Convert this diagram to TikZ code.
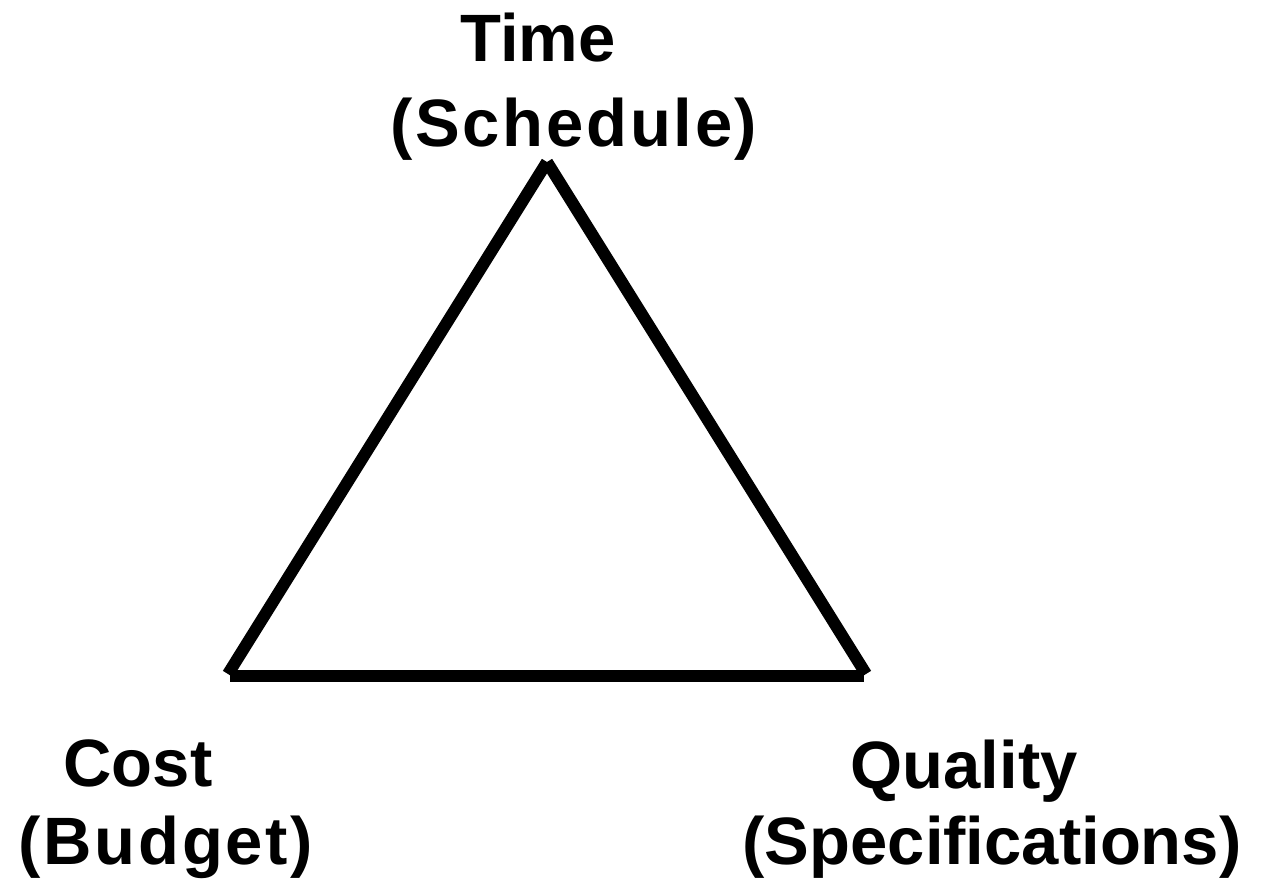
\documentclass[tikz,border=0pt]{standalone}
\usepackage{fontspec}
\setmainfont{Liberation Sans}
\begin{document}
\begin{tikzpicture}[x=1pt,y=-1pt,
  side/.style={line width=12pt,line cap=butt,black},
  label/.style={anchor=base,inner sep=0pt,font=\bfseries\fontsize{67}{80}\selectfont},
  wide/.style={font=\bfseries\fontsize{67}{80}\selectfont\addfontfeatures{LetterSpace=4}}]
\useasboundingbox (0,0) rectangle (1285,883);
% corners of the triangle
\coordinate (top) at (547,162);
\coordinate (bl) at (228,674);
\coordinate (br) at (866,674);
\coordinate (bl2) at (230,676);
\coordinate (br2) at (864,676);
% three separate sides
\draw[side] (top) -- (bl);
\draw[side] (top) -- (br);
\draw[side] (bl2) -- (br2);
% corner labels
\node[label] (time1) at (538,62) {Time};
\node[label,wide] (time2) at (574,146) {(Schedule)};
\node[label] (cost1) at (138,786) {Cost};
\node[label,wide] (cost2) at (166,864) {(Budget)};
\node[label] (qual1) at (964,788) {Quality};
\node[label] (qual2) at (992,864) {(Specifications)};
\end{tikzpicture}
\end{document}
